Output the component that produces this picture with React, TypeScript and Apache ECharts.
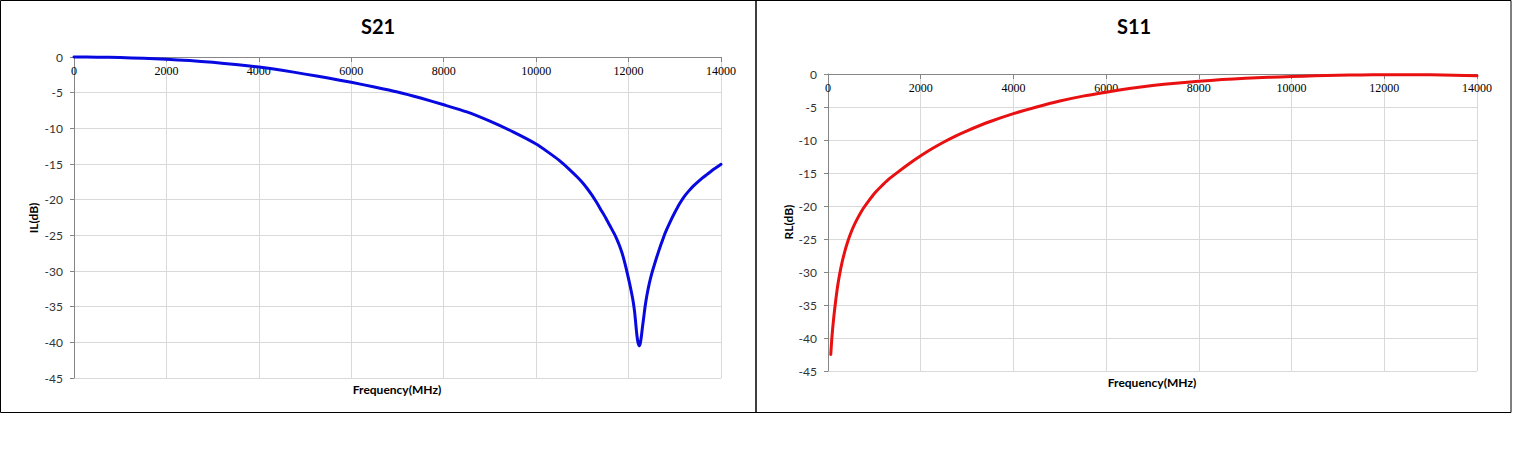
import React, { useEffect, useRef } from "react";
import * as echarts from "echarts";

const xTicks = [0, 2000, 4000, 6000, 8000, 10000, 12000, 14000];

const s21Freq = [0, 500, 1000, 1500, 2000, 2500, 3000, 3500, 4000, 4500, 5000, 5500, 6000, 6500, 7000, 7500, 8000, 8500, 9000, 9500, 10000, 10250, 10500, 10700, 10900, 11000, 11100, 11200, 11300, 11400, 11500, 11600, 11700, 11750, 11800, 11850, 11900, 11950, 12000, 12050, 12100, 12130, 12150, 12170, 12190, 12210, 12227, 12245, 12260, 12280, 12300, 12330, 12357, 12400, 12450, 12500, 12550, 12600, 12650, 12700, 12750, 12800, 12900, 13000, 13100, 13200, 13300, 13400, 13500, 13600, 13700, 13800, 13900, 14000];
const s21Db = [0, -0.02, -0.08, -0.18, -0.32, -0.5, -0.75, -1.05, -1.4, -1.85, -2.4, -2.95, -3.55, -4.2, -4.9, -5.75, -6.7, -7.7, -9.0, -10.5, -12.2, -13.3, -14.5, -15.65, -16.9, -17.6, -18.4, -19.3, -20.3, -21.4, -22.5, -23.7, -24.9, -25.6, -26.4, -27.3, -28.4, -29.7, -31.1, -32.6, -34.3, -35.7, -37.0, -38.4, -39.5, -40.2, -40.5, -40.35, -39.9, -39.0, -37.9, -36.4, -35.0, -33.3, -31.7, -30.4, -29.3, -28.25, -27.25, -26.3, -25.4, -24.55, -23.1, -21.8, -20.6, -19.6, -18.8, -18.1, -17.5, -16.95, -16.45, -15.95, -15.5, -15.05];

const s11Freq = [60, 80, 100, 130, 170, 220, 280, 350, 430, 520, 620, 740, 870, 1000, 1150, 1300, 1500, 1750, 2000, 2250, 2500, 2750, 3000, 3500, 4000, 4500, 5000, 5500, 6000, 6500, 7000, 7500, 8000, 8500, 9000, 9500, 10000, 10500, 11000, 11500, 12000, 12500, 13000, 13500, 14000];
const s11Db = [-42.5, -40.3, -38.6, -36.5, -34.1, -31.6, -29.3, -27.2, -25.3, -23.6, -22.1, -20.6, -19.3, -18.1, -17.0, -16.0, -14.9, -13.6, -12.4, -11.3, -10.3, -9.4, -8.6, -7.2, -6.0, -5.0, -4.1, -3.35, -2.75, -2.2, -1.75, -1.4, -1.1, -0.85, -0.65, -0.5, -0.38, -0.28, -0.2, -0.14, -0.1, -0.1, -0.13, -0.2, -0.28];

const SANS = "Lato, 'Liberation Sans', sans-serif";
const SERIF = "'Liberation Serif', serif";
const AXIS_COLOR = "#868686";
const GRID_COLOR = "#d9d9d9";

function xAxisCfg(gridIndex: number) {
  return {
    type: "value" as const,
    gridIndex,
    min: xTicks[0],
    max: xTicks[xTicks.length - 1],
    interval: xTicks[1] - xTicks[0],
    position: "top" as const,
    axisLine: { show: true, onZero: false, lineStyle: { color: AXIS_COLOR, width: 1 } },
    axisTick: { show: true, inside: true, length: 5, lineStyle: { color: AXIS_COLOR } },
    axisLabel: {
      inside: true,
      margin: 8,
      color: "#000",
      fontFamily: SERIF,
      fontSize: 12,
      showMinLabel: true,
      showMaxLabel: true,
      formatter: (v: number) => String(v),
    },
    splitLine: { show: true, lineStyle: { color: GRID_COLOR, width: 1 } },
  };
}

function yAxisCfg(gridIndex: number) {
  return {
    type: "value" as const,
    gridIndex,
    min: -45,
    max: 0,
    interval: 5,
    axisLine: { show: true, onZero: false, lineStyle: { color: AXIS_COLOR, width: 1 } },
    axisTick: { show: true, inside: false, length: 4, lineStyle: { color: AXIS_COLOR } },
    axisLabel: { margin: 11, color: "#333", fontFamily: SANS, fontSize: 12, formatter: (v: number) => String(v) },
    splitLine: { show: true, lineStyle: { color: GRID_COLOR, width: 1 } },
  };
}

export default function App() {
  const ref = useRef<HTMLDivElement>(null);
  useEffect(() => {
    document.body.style.margin = "0";
    if (!ref.current) return;
    const chart = echarts.init(ref.current, undefined, { renderer: "svg" });
    const s21 = s21Freq.map((f, i) => [f, s21Db[i]]);
    const s11 = s11Freq.map((f, i) => [f, s11Db[i]]);
    chart.setOption({
      animation: false,
      backgroundColor: "#fff",
      grid: [
        { left: 74, top: 57, width: 647, height: 321 },
        { left: 828, top: 74, width: 649, height: 297 },
      ],
      xAxis: [xAxisCfg(0), xAxisCfg(1)],
      yAxis: [yAxisCfg(0), yAxisCfg(1)],
      series: [
        {
          type: "line",
          xAxisIndex: 0,
          yAxisIndex: 0,
          data: s21,
          showSymbol: false,
          smooth: 0.2,
          clip: false,
          lineStyle: { color: "#0808e0", width: 3, join: "round", cap: "round" },
          itemStyle: { color: "#0808e0" },
        },
        {
          type: "line",
          xAxisIndex: 1,
          yAxisIndex: 1,
          data: s11,
          showSymbol: false,
          smooth: 0.2,
          clip: false,
          lineStyle: { color: "#e81010", width: 3, join: "round", cap: "round" },
          itemStyle: { color: "#e81010" },
        },
      ],
      graphic: [
        { type: "rect", shape: { x: 0.5, y: 0.5, width: 755.5, height: 412 }, style: { fill: "none", stroke: "#000", lineWidth: 1 }, silent: true },
        { type: "rect", shape: { x: 756, y: 0.5, width: 755, height: 412 }, style: { fill: "none", stroke: "#000", lineWidth: 1 }, silent: true },
        { type: "text", x: 378, y: 26, style: { text: "S21", fill: "#000", font: `bold 20px ${SANS}`, textAlign: "center", textVerticalAlign: "middle" } },
        { type: "text", x: 1134, y: 26, style: { text: "S11", fill: "#000", font: `bold 20px ${SANS}`, textAlign: "center", textVerticalAlign: "middle" } },
        { type: "text", x: 397, y: 389, style: { text: "Frequency(MHz)", fill: "#000", font: `bold 12px ${SANS}`, textAlign: "center", textVerticalAlign: "middle" } },
        { type: "text", x: 1152, y: 382, style: { text: "Frequency(MHz)", fill: "#000", font: `bold 12px ${SANS}`, textAlign: "center", textVerticalAlign: "middle" } },
        { type: "text", x: 33, y: 218, rotation: Math.PI / 2, style: { text: "IL(dB)", fill: "#000", font: `bold 12px ${SANS}`, textAlign: "center", textVerticalAlign: "middle" } },
        { type: "text", x: 788, y: 222, rotation: Math.PI / 2, style: { text: "RL(dB)", fill: "#000", font: `bold 12px ${SANS}`, textAlign: "center", textVerticalAlign: "middle" } },
      ],
    });
    return () => chart.dispose();
  }, []);
  return <div ref={ref} style={{ width: 1513, height: 460 }} />;
}
